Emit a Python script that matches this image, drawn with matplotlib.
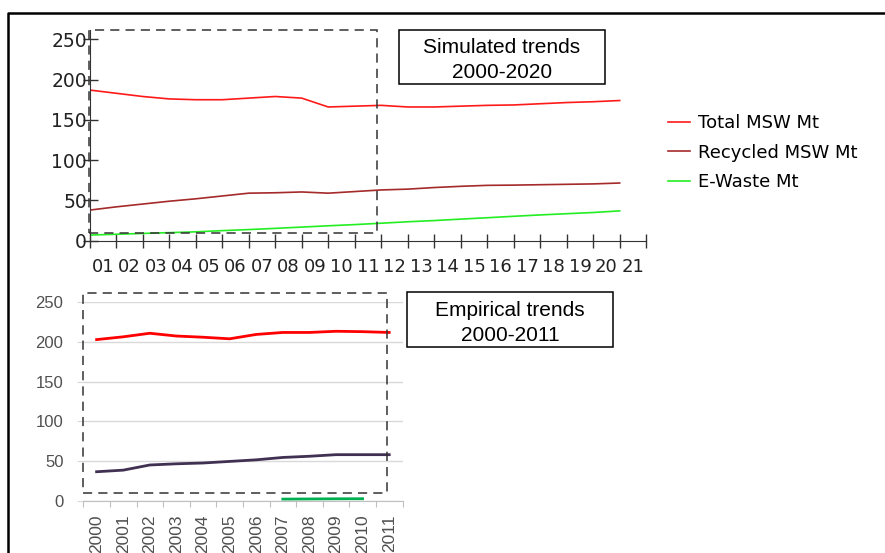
import numpy as np
import matplotlib
matplotlib.use('Agg')
import matplotlib.pyplot as plt
from matplotlib.patches import Rectangle
from matplotlib.lines import Line2D

plt.rcParams['font.family'] = ['DejaVu Sans']

# Simulated trends 2000-2020 (x labels are two-digit years 01..21)
sim_labels = ['%02d' % i for i in range(1, 22)]
total_msw = [187, 183, 179, 176, 175, 175, 177, 179, 177, 166, 167,
             168, 166, 166, 167, 168, 168.5, 170, 171.5, 172.5, 174]
recycled_msw = [38, 42, 45.5, 49, 52, 55.5, 59, 59.5, 60.5, 59, 61,
                63, 64, 66, 67.5, 68.7, 69, 69.5, 70, 70.5, 71.6]
e_waste = [7, 8, 9, 10, 11, 12.5, 13.8, 15.3, 16.9, 18.5, 20,
           21.7, 23.5, 25, 26.8, 28.5, 30.3, 32, 33.5, 35, 37]

# Empirical trends 2000-2011
emp_years = [str(y) for y in range(2000, 2012)]
total_emp = [203, 206.5, 211, 207.5, 206, 204, 209.5, 212, 212, 213.5, 213, 212]
recycled_emp = [36.5, 38.5, 45, 46.5, 47.5, 49.5, 51.5, 54.5, 56, 58, 58, 58]
ewaste_emp = [np.nan] * 7 + [2, 2.2, 2.4, 2.5] + [np.nan]

W, H = 885, 553
fig = plt.figure(figsize=(W / 100, H / 100), dpi=100, facecolor='white')


def frac(x0, y0, x1, y1):
    # pixel box (top-left origin) -> figure fraction [left, bottom, width, height]
    return [x0 / W, 1 - y1 / H, (x1 - x0) / W, (y1 - y0) / H]


# ---- top chart: simulated trends ----
ytop = 262
ax1 = fig.add_axes(frac(89.7, 240.7 - ytop * 0.8056, 646.2, 240.7))
x = np.arange(len(total_msw))
l1, = ax1.plot(x, total_msw, color='#ff1a1a', lw=1.2, label='Total MSW Mt')
l2, = ax1.plot(x, recycled_msw, color='#a52a2a', lw=1.2, label='Recycled MSW Mt')
l3, = ax1.plot(x, e_waste, color='#22ee22', lw=1.2, label='E-Waste Mt')
ax1.set_xlim(0, 21)
ax1.set_ylim(0, ytop)
for s in ['top', 'right']:
    ax1.spines[s].set_visible(False)
for s in ['left', 'bottom']:
    ax1.spines[s].set_color('#333333')
ax1.set_yticks(range(0, 251, 50))
ax1.set_xticks(range(0, 22))
ax1.set_xticklabels([])
ax1.set_xticks(np.arange(0.5, 21), minor=True)
ax1.set_xticklabels(sim_labels, minor=True)
ax1.tick_params(axis='y', direction='inout', length=10.8, width=1, color='#333333',
                pad=-3.5, labelsize=13.5, labelcolor='#222222')
ax1.tick_params(axis='x', which='major', direction='inout', length=9.4, width=1,
                color='#333333')
ax1.tick_params(axis='x', which='minor', length=0, pad=12.5, labelsize=13,
                labelcolor='#222222')

fig.legend(handles=[l1, l2, l3], loc='upper left',
           bbox_to_anchor=(668 / W, 1 - 114.5 / H), frameon=False, borderpad=0,
           borderaxespad=0, handlelength=1.2, handletextpad=0.45,
           labelspacing=0.62, fontsize=13)

# ---- bottom chart: empirical trends ----
ax2 = fig.add_axes(frac(83.3, 302.3, 402.5, 500.7))
xe = np.arange(len(emp_years))
ax2.plot(xe, total_emp, color='#ff0000', lw=2)
ax2.plot(xe, recycled_emp, color='#403152', lw=2)
ax2.plot(xe, ewaste_emp, color='#00b050', lw=2)
ax2.set_xlim(-0.5, 11.5)
ax2.set_ylim(0, 250)
for s in ['top', 'right', 'left']:
    ax2.spines[s].set_visible(False)
ax2.spines['bottom'].set_color('#bfbfbf')
ax2.set_yticks(range(0, 251, 50))
ax2.yaxis.grid(True, color='#d9d9d9', lw=1)
ax2.set_axisbelow(True)
ax2.set_xticks(np.arange(-0.5, 12))
ax2.set_xticklabels([])
ax2.set_xticks(xe, minor=True)
ax2.set_xticklabels(emp_years, minor=True, rotation=90)
ax2.tick_params(axis='y', length=4.3, color='#d9d9d9', pad=10, labelsize=12,
                labelcolor='#505050', labelfontfamily='Liberation Sans')
ax2.tick_params(axis='x', which='major', length=4.3, color='#bfbfbf')
ax2.tick_params(axis='x', which='minor', length=0, pad=10, labelsize=12.5,
                labelcolor='#505050', labelfontfamily='Liberation Sans')

# ---- dashed boxes, text boxes, outer frame ----
for box in [(88.7, 30, 377.3, 233.3), (83.3, 292.7, 386.7, 493.3)]:
    l, b, w, h = frac(*box)
    fig.add_artist(Rectangle((l, b), w, h, transform=fig.transFigure, fill=False,
                             ec='#333333', lw=1.1, ls=(0, (6, 4))))

for box, txt in [((399, 30, 605, 84), 'Simulated trends\n2000-2020'),
                 ((407, 292.3, 613.3, 347), 'Empirical trends\n2000-2011')]:
    l, b, w, h = frac(*box)
    fig.add_artist(Rectangle((l, b), w, h, transform=fig.transFigure, fill=False,
                             ec='black', lw=1.1))
    fig.text(l + w / 2, b + h / 2 - 3 / H, txt, ha='center', va='center',
             fontsize=15, family='Liberation Sans', linespacing=1.42)

fig.add_artist(Line2D([8 / W, 8 / W, 1], [0, 1 - 13 / H, 1 - 13 / H],
                      transform=fig.transFigure, color='black', lw=1.8))

fig.savefig('out.png', dpi=100, facecolor='white')
